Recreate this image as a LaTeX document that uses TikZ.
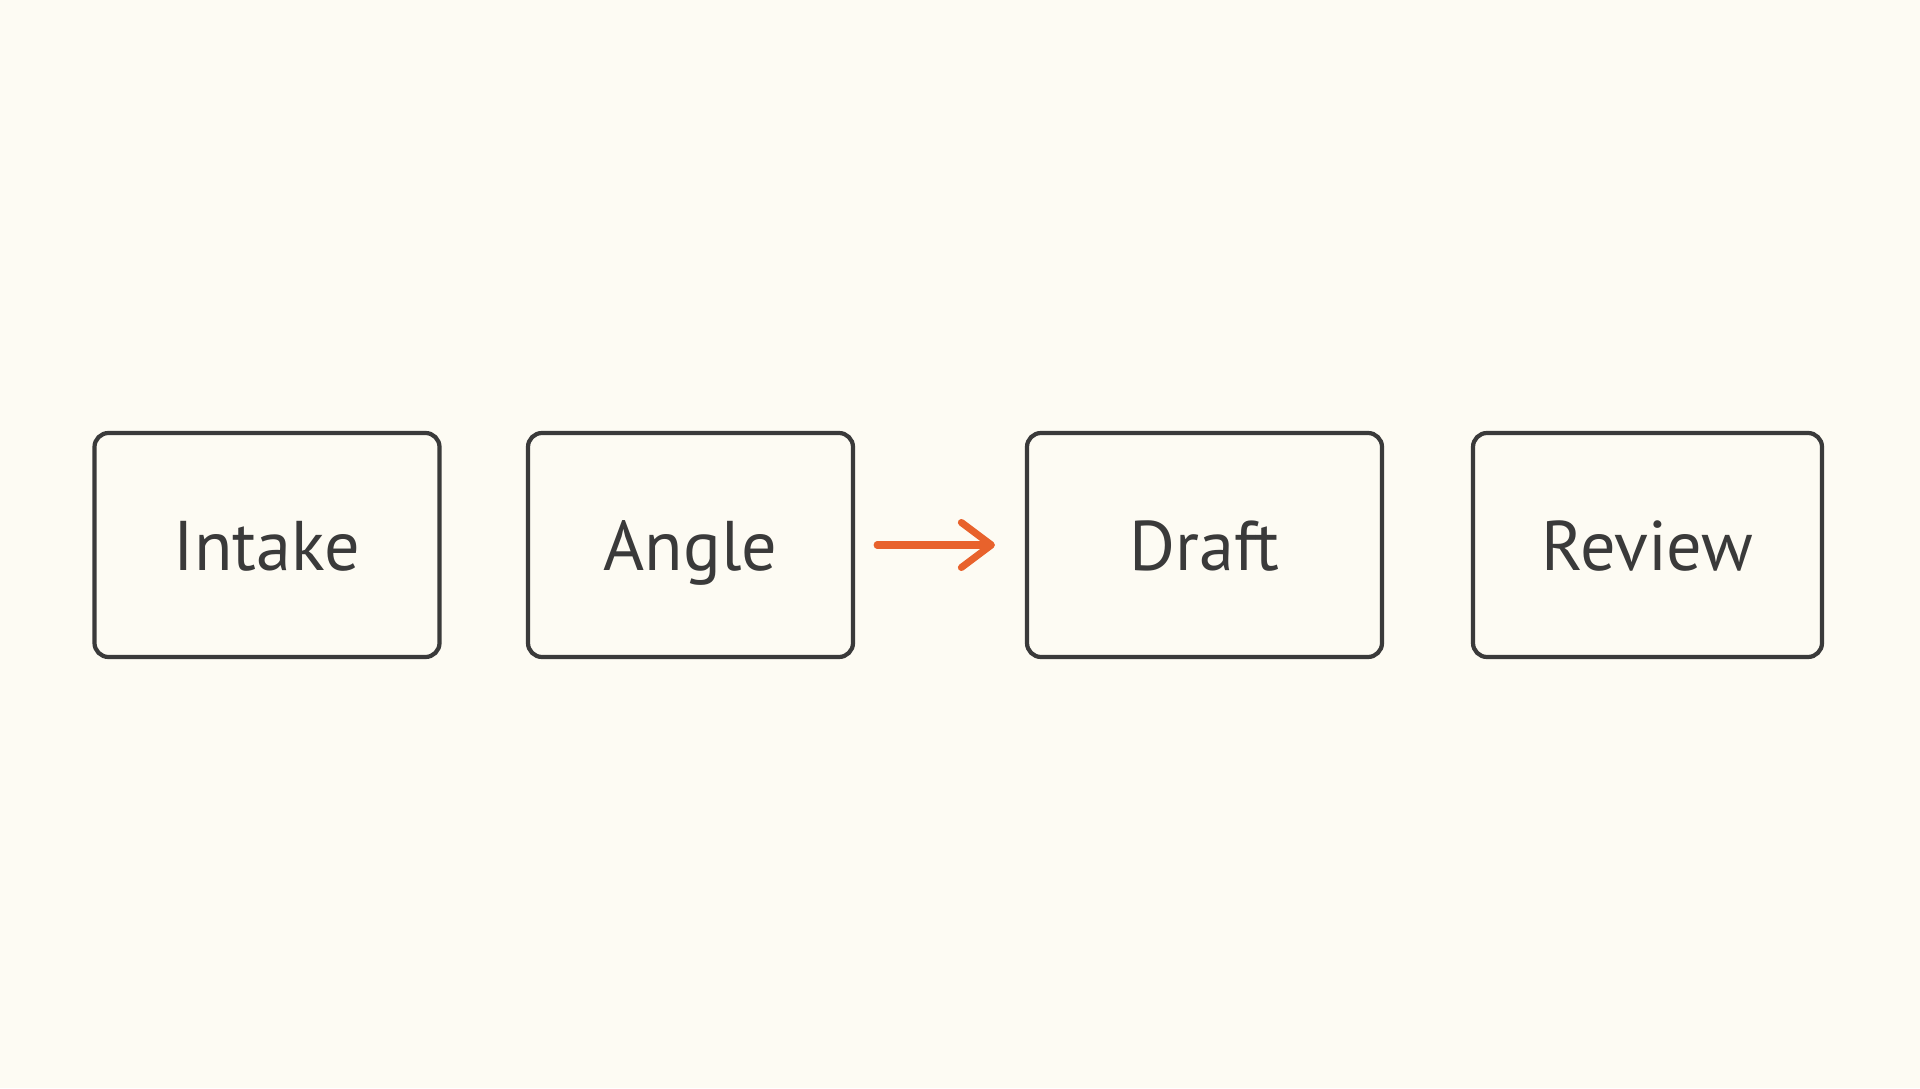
\documentclass[tikz,border=0pt]{standalone}
\usepackage{fontspec}
\setmainfont{PT Sans}
\usetikzlibrary{arrows.meta}
\definecolor{paper}{HTML}{FDFBF3}
\definecolor{ink}{HTML}{3A3A3A}
\definecolor{flow}{HTML}{E8622C}
\begin{document}
\begin{tikzpicture}
    \fill[paper] (0,0) rectangle (19.2,10.88);
    \tikzstyle{every node}=[draw=ink,line width=1.2pt,rounded corners=0.14cm,
      minimum height=2.24cm,text=ink,font=\fontsize{20}{24}\selectfont,inner sep=0pt,
      text height=14.5pt,text depth=0pt];
    %\node (name) at (x,y) [minimum width=w] {text};
    \node (intake) at (2.67,5.43) [minimum width=3.45cm] {Intake};
    \node (angle) at (6.905,5.43) [minimum width=3.25cm] {Angle};
    \node (draft) at (12.045,5.43) [minimum width=3.55cm] {Draft};
    \node (review) at (16.475,5.43) [minimum width=3.49cm] {Review};


    \draw[flow,line width=2pt,line cap=round,
      -{Straight Barb[length=0.3cm,width=0.45cm,line cap=round,round]},
      shorten <=0.22cm,shorten >=0.3cm] (angle)--(draft);
  \end{tikzpicture}
\end{document}
